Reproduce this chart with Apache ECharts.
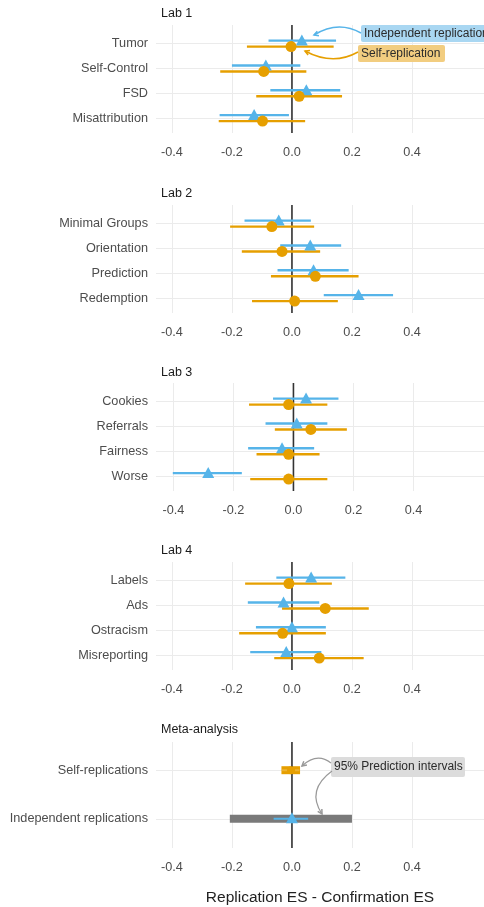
<!DOCTYPE html>
<html><head><meta charset="utf-8">
<script src="https://cdn.jsdelivr.net/npm/echarts@6/dist/echarts.min.js"></script>
<style>html,body{margin:0;padding:0;background:#fff}#c{width:484px;height:907px}</style>
</head><body><div id="c"></div>
<script>
// ---- data: [estimate, lower CI, upper CI] ----
const lab1Cats = ['Tumor', 'Self-Control', 'FSD', 'Misattribution'];
const lab1Indep = [[0.033, -0.078, 0.147], [-0.087, -0.200, 0.028], [0.048, -0.072, 0.161], [-0.126, -0.241, -0.010]];
const lab1Self  = [[-0.003, -0.150, 0.139], [-0.094, -0.239, 0.048], [0.024, -0.119, 0.167], [-0.098, -0.244, 0.044]];

const lab2Cats = ['Minimal Groups', 'Orientation', 'Prediction', 'Redemption'];
const lab2Indep = [[-0.044, -0.158, 0.063], [0.061, -0.039, 0.164], [0.072, -0.048, 0.189], [0.222, 0.106, 0.337]];
const lab2Self  = [[-0.067, -0.206, 0.074], [-0.033, -0.167, 0.094], [0.078, -0.070, 0.222], [0.009, -0.133, 0.153]];

const lab3Cats = ['Cookies', 'Referrals', 'Fairness', 'Worse'];
const lab3Indep = [[0.042, -0.068, 0.150], [0.011, -0.093, 0.113], [-0.038, -0.151, 0.069], [-0.284, -0.402, -0.172]];
const lab3Self  = [[-0.016, -0.148, 0.113], [0.058, -0.062, 0.178], [-0.016, -0.123, 0.087], [-0.016, -0.144, 0.113]];

const lab4Cats = ['Labels', 'Ads', 'Ostracism', 'Misreporting'];
const lab4Indep = [[0.064, -0.052, 0.178], [-0.028, -0.147, 0.091], [0.000, -0.120, 0.113], [-0.019, -0.139, 0.098]];
const lab4Self  = [[-0.010, -0.156, 0.133], [0.111, -0.033, 0.256], [-0.031, -0.176, 0.113], [0.091, -0.059, 0.239]];

const metaCats = ['Self-replications', 'Independent replications'];
const metaSelf  = [-0.003, -0.033, 0.025];   // estimate, CI
const metaIndep = [0.000, -0.061, 0.054];
const metaSelfPI  = [-0.035, 0.027];          // 95% prediction interval
const metaIndepPI = [-0.207, 0.200];

const xTicks = [-0.4, -0.2, 0.0, 0.2, 0.4];
const panelTitles = ['Lab 1', 'Lab 2', 'Lab 3', 'Lab 4', 'Meta-analysis'];
const xTitle = 'Replication ES - Confirmation ES';

// ---- styling / layout ----
const BLUE = '#56B4E9', ORANGE = '#E69F00', GRID = '#EBEBEB', LBL = '#4D4D4D';
const FONT = '"Liberation Sans", Arial, Helvetica, sans-serif';
const FS = 12.7;
const layout = [
  {top: 25,  h: 108, min: -0.453, max: 0.64, ymin: 0.25, ymax: 4.6, titleY: 14},
  {top: 205, h: 108, min: -0.453, max: 0.64, ymin: 0.25, ymax: 4.6, titleY: 194},
  {top: 383, h: 108, min: -0.458, max: 0.635, ymin: 0.25, ymax: 4.6, titleY: 373},
  {top: 562, h: 108, min: -0.453, max: 0.64, ymin: 0.25, ymax: 4.6, titleY: 551},
  {top: 742, h: 106, min: -0.453, max: 0.64, ymin: 0.42, ymax: 2.6, titleY: 730}
];
const labs = [
  [lab1Cats, lab1Indep, lab1Self],
  [lab2Cats, lab2Indep, lab2Self],
  [lab3Cats, lab3Indep, lab3Self],
  [lab4Cats, lab4Indep, lab4Self]
];
const allCats = [lab1Cats, lab2Cats, lab3Cats, lab4Cats, metaCats];

const grids = [], xAxes = [], yAxes = [], titles = [], series = [];
layout.forEach((L, gi) => {
  grids.push({left: 156, right: 0, top: L.top, height: L.h});
  const cats = allCats[gi];
  const rows = cats.map((c, i) => i + 1);
  xAxes.push({
    type: 'value', gridIndex: gi, min: L.min, max: L.max,
    axisLine: {show: false}, axisTick: {show: false, customValues: xTicks},
    axisLabel: {customValues: xTicks, formatter: v => v.toFixed(1), color: LBL, fontSize: FS, margin: 13, fontFamily: FONT},
    splitLine: {show: true, lineStyle: {color: GRID, width: 1}},
    name: gi === 4 ? xTitle : '', nameLocation: 'middle', nameGap: 42,
    nameTextStyle: {fontSize: 15.5, color: '#222', fontFamily: FONT}
  });
  yAxes.push({
    type: 'value', gridIndex: gi, inverse: true, min: L.ymin, max: L.ymax,
    axisLine: {show: false}, axisTick: {show: false, customValues: rows},
    axisLabel: {customValues: rows, formatter: v => cats[Math.round(v) - 1], color: LBL, fontSize: FS, margin: 8, fontFamily: FONT},
    splitLine: {show: true, lineStyle: {color: GRID, width: 1}}
  });
  titles.push({text: panelTitles[gi], left: 161, top: L.titleY - 7, padding: 0,
    textStyle: {fontSize: 12.5, fontWeight: 'normal', color: '#1a1a1a', fontFamily: FONT}});
  // vertical reference line at zero, spanning the panel
  series.push({
    type: 'custom', xAxisIndex: gi, yAxisIndex: gi, silent: true, animation: false, z: 1.5,
    data: [[0, L.ymin, L.ymax]], encode: {x: 0, y: [1, 2]},
    renderItem: (p, api) => {
      const a = api.coord([api.value(0), api.value(1)]);
      const b = api.coord([api.value(0), api.value(2)]);
      return {type: 'line', shape: {x1: a[0], y1: a[1], x2: b[0], y2: b[1]}, style: {stroke: '#333', lineWidth: 1.6}};
    }
  });
});

function ciSeries(gi, data, color, off, width) {
  return {
    type: 'custom', xAxisIndex: gi, yAxisIndex: gi, silent: true, animation: false, z: 2,
    encode: {x: [1, 2], y: 0}, data: data,
    renderItem: (p, api) => {
      const a = api.coord([api.value(1), api.value(0)]);
      const b = api.coord([api.value(2), api.value(0)]);
      return {type: 'line', shape: {x1: a[0], y1: a[1] + off, x2: b[0], y2: b[1] + off},
        style: {stroke: color, lineWidth: width}};
    }
  };
}
function pointSeries(gi, data, sym, size, color, off) {
  return {type: 'scatter', xAxisIndex: gi, yAxisIndex: gi, silent: true, animation: false, z: 3,
    symbol: sym, symbolSize: size, symbolOffset: [0, off], data: data,
    itemStyle: {color: color, opacity: 1}};
}

labs.forEach(([cats, indep, self], gi) => {
  series.push(ciSeries(gi, indep.map((d, i) => [i + 1, d[1], d[2]]), BLUE, -3, 2.4));
  series.push(pointSeries(gi, indep.map((d, i) => [d[0], i + 1]), 'triangle', [12, 11], BLUE, -3.5));
  series.push(ciSeries(gi, self.map((d, i) => [i + 1, d[1], d[2]]), ORANGE, 3, 2.4));
  series.push(pointSeries(gi, self.map((d, i) => [d[0], i + 1]), 'circle', 11, ORANGE, 3));
});

// meta-analysis panel: prediction-interval bars (below zero line)
const piColors = ['#E69F00', '#7A7A7A'];
series.push({
  type: 'custom', xAxisIndex: 4, yAxisIndex: 4, silent: true, animation: false, z: 1,
  encode: {x: [1, 2], y: 0}, data: [[1, metaSelfPI[0], metaSelfPI[1]], [2, metaIndepPI[0], metaIndepPI[1]]],
  renderItem: (p, api) => {
    const a = api.coord([api.value(1), api.value(0)]);
    const b = api.coord([api.value(2), api.value(0)]);
    return {type: 'rect', shape: {x: a[0], y: a[1] - 4, width: b[0] - a[0], height: 8}, style: {fill: piColors[p.dataIndex]}};
  }
});
series.push(ciSeries(4, [[1, metaSelf[1], metaSelf[2]]], '#EDB333', 0, 2));
series.push(pointSeries(4, [[metaSelf[0], 1]], 'circle', 8, ORANGE, 0));
series.push(ciSeries(4, [[2, metaIndep[1], metaIndep[2]]], BLUE, 0, 2));
series.push(pointSeries(4, [[metaIndep[0], 2]], 'triangle', [12, 11], BLUE, -1));

// ---- annotations ----
function arrowHead(x, y, angle, color) {
  const l = 5, w = 0.5;
  return {type: 'polyline', silent: true, z: 100,
    shape: {points: [[x + l * Math.cos(angle - w), y + l * Math.sin(angle - w)], [x, y], [x + l * Math.cos(angle + w), y + l * Math.sin(angle + w)]]},
    style: {stroke: color, lineWidth: 1.5, fill: null}};
}
const graphic = [
  // Independent replication label
  {type: 'rect', z: 100, shape: {x: 361, y: 25, width: 140, height: 17, r: 2}, style: {fill: '#A9D7F2'}},
  {type: 'text', z: 101, style: {x: 364, y: 33.5, text: 'Independent replications', fill: '#2b2b2b', font: '12px ' + FONT, textVerticalAlign: 'middle'}},
  {type: 'bezierCurve', z: 100, shape: {x1: 361, y1: 33, cpx1: 338, cpy1: 20, x2: 314, y2: 35}, style: {stroke: BLUE, lineWidth: 1.5, fill: null}},
  arrowHead(314, 35, -0.35, BLUE),
  // Self-replication label
  {type: 'rect', z: 100, shape: {x: 358, y: 45, width: 87, height: 17, r: 2}, style: {fill: '#F2CD80'}},
  {type: 'text', z: 101, style: {x: 361, y: 53.5, text: 'Self-replication', fill: '#2b2b2b', font: '12px ' + FONT, textVerticalAlign: 'middle'}},
  {type: 'bezierCurve', z: 100, shape: {x1: 358, y1: 52, cpx1: 333, cpy1: 66, x2: 305, y2: 51}, style: {stroke: ORANGE, lineWidth: 1.5, fill: null}},
  arrowHead(305, 51, 0.4, ORANGE),
  // Prediction intervals label
  {type: 'rect', z: 100, shape: {x: 331, y: 757, width: 134, height: 20, r: 2}, style: {fill: '#DCDCDC'}},
  {type: 'text', z: 101, style: {x: 334, y: 767, text: '95% Prediction intervals', fill: '#2b2b2b', font: '12px ' + FONT, textVerticalAlign: 'middle'}},
  {type: 'bezierCurve', z: 100, shape: {x1: 331, y1: 763, cpx1: 317, cpy1: 752, x2: 302, y2: 766}, style: {stroke: '#999', lineWidth: 1.2, fill: null}},
  arrowHead(302, 766, -0.7, '#999'),
  {type: 'bezierCurve', z: 100, shape: {x1: 332, y1: 771, cpx1: 306, cpy1: 790, x2: 322, y2: 814}, style: {stroke: '#999', lineWidth: 1.2, fill: null}},
  arrowHead(322, 814, -2.1, '#999')
];

const chart = echarts.init(document.getElementById('c'), null, {renderer: 'canvas'});
chart.setOption({
  animation: false, backgroundColor: '#fff',
  title: titles, grid: grids, xAxis: xAxes, yAxis: yAxes, series: series, graphic: graphic
});
</script></body></html>
